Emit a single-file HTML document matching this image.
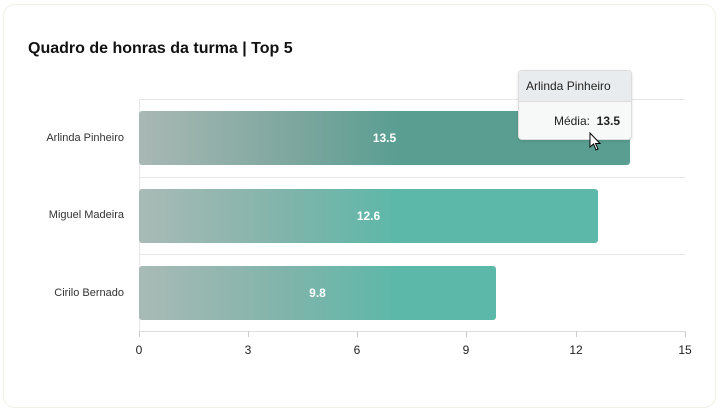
<!DOCTYPE html>
<html><head><meta charset="utf-8"><style>
body{margin:0;width:727px;height:415px;background:#fff;font-family:"Liberation Sans",sans-serif;position:relative;overflow:hidden}
.card{position:absolute;left:3px;top:4px;width:713px;height:404px;border:1.5px solid #eef1e4;border-radius:12px;box-sizing:border-box}
.t{position:absolute;left:28px;top:40px;font-size:16px;font-weight:bold;color:#111}
.g{position:absolute;left:139px;width:546px;height:1px;background:#e6e6e6}
.v{position:absolute;left:139px;top:99px;width:1px;height:233px;background:#e6e6e6}
.bar{position:absolute;left:139px;height:54px;border-radius:3px;background:linear-gradient(90deg,#a9bab6 0px,#7fb4aa 150px,#5cb8a9 260px,#5cb8a9 100%);color:#fff;font-size:12px;font-weight:bold;display:flex;align-items:center;justify-content:center}
.lab{position:absolute;right:603px;font-size:11px;color:#333;text-align:right;white-space:nowrap}
.tk{position:absolute;top:331px;width:1px;height:6px;background:#ccc}
.tl{position:absolute;top:343px;font-size:12px;color:#222;width:30px;margin-left:-15px;text-align:center}
.tip{position:absolute;left:518px;top:70px;width:112px;height:68px;border:1px solid #ddd;border-radius:4px;background:#f7f8f8;box-shadow:0 1px 3px rgba(0,0,0,.12);font-size:12px;color:#222}
.tip .h{background:#e9ecef;height:30px;line-height:30px;padding-left:7px;border-bottom:1px solid #ddd;border-radius:4px 4px 0 0}
</style></head><body>
<div class="card"></div>
<div class="t">Quadro de honras da turma | Top 5</div>
<div class="g" style="top:99px"></div><div class="g" style="top:177px"></div><div class="g" style="top:254px"></div><div class="g" style="top:331px;background:#ddd"></div>
<div class="v"></div>
<div class="bar" style="top:111px;width:491px;background:linear-gradient(90deg,#a9b8b4 0px,#7ea79f 150px,#5a9e92 260px,#5a9e92 100%)">13.5</div>
<div class="bar" style="top:189px;width:459px">12.6</div>
<div class="bar" style="top:266px;width:357px">9.8</div>
<div class="lab" style="top:132px">Arlinda Pinheiro</div>
<div class="lab" style="top:209px">Miguel Madeira</div>
<div class="lab" style="top:287px">Cirilo Bernado</div>
<div class="tk" style="left:139px"></div><div class="tk" style="left:248px"></div><div class="tk" style="left:357px"></div><div class="tk" style="left:466px"></div><div class="tk" style="left:576px"></div><div class="tk" style="left:685px"></div>
<div class="tl" style="left:139px">0</div><div class="tl" style="left:248px">3</div><div class="tl" style="left:357px">6</div><div class="tl" style="left:466px">9</div><div class="tl" style="left:576px">12</div><div class="tl" style="left:685px">15</div>
<div class="tip"><div class="h">Arlinda Pinheiro</div><div style="text-align:right;padding:12px 11px 0 0">Média:&nbsp;&nbsp;<b>13.5</b></div></div>
<svg style="position:absolute;left:589px;top:132px" width="14" height="20"><path d="M1 1 L1 15 L4.5 12 L7 18 L9 17 L6.5 11.5 L11 11.5 Z" fill="#fff" stroke="#000" stroke-width="1"/></svg>
</body></html>
